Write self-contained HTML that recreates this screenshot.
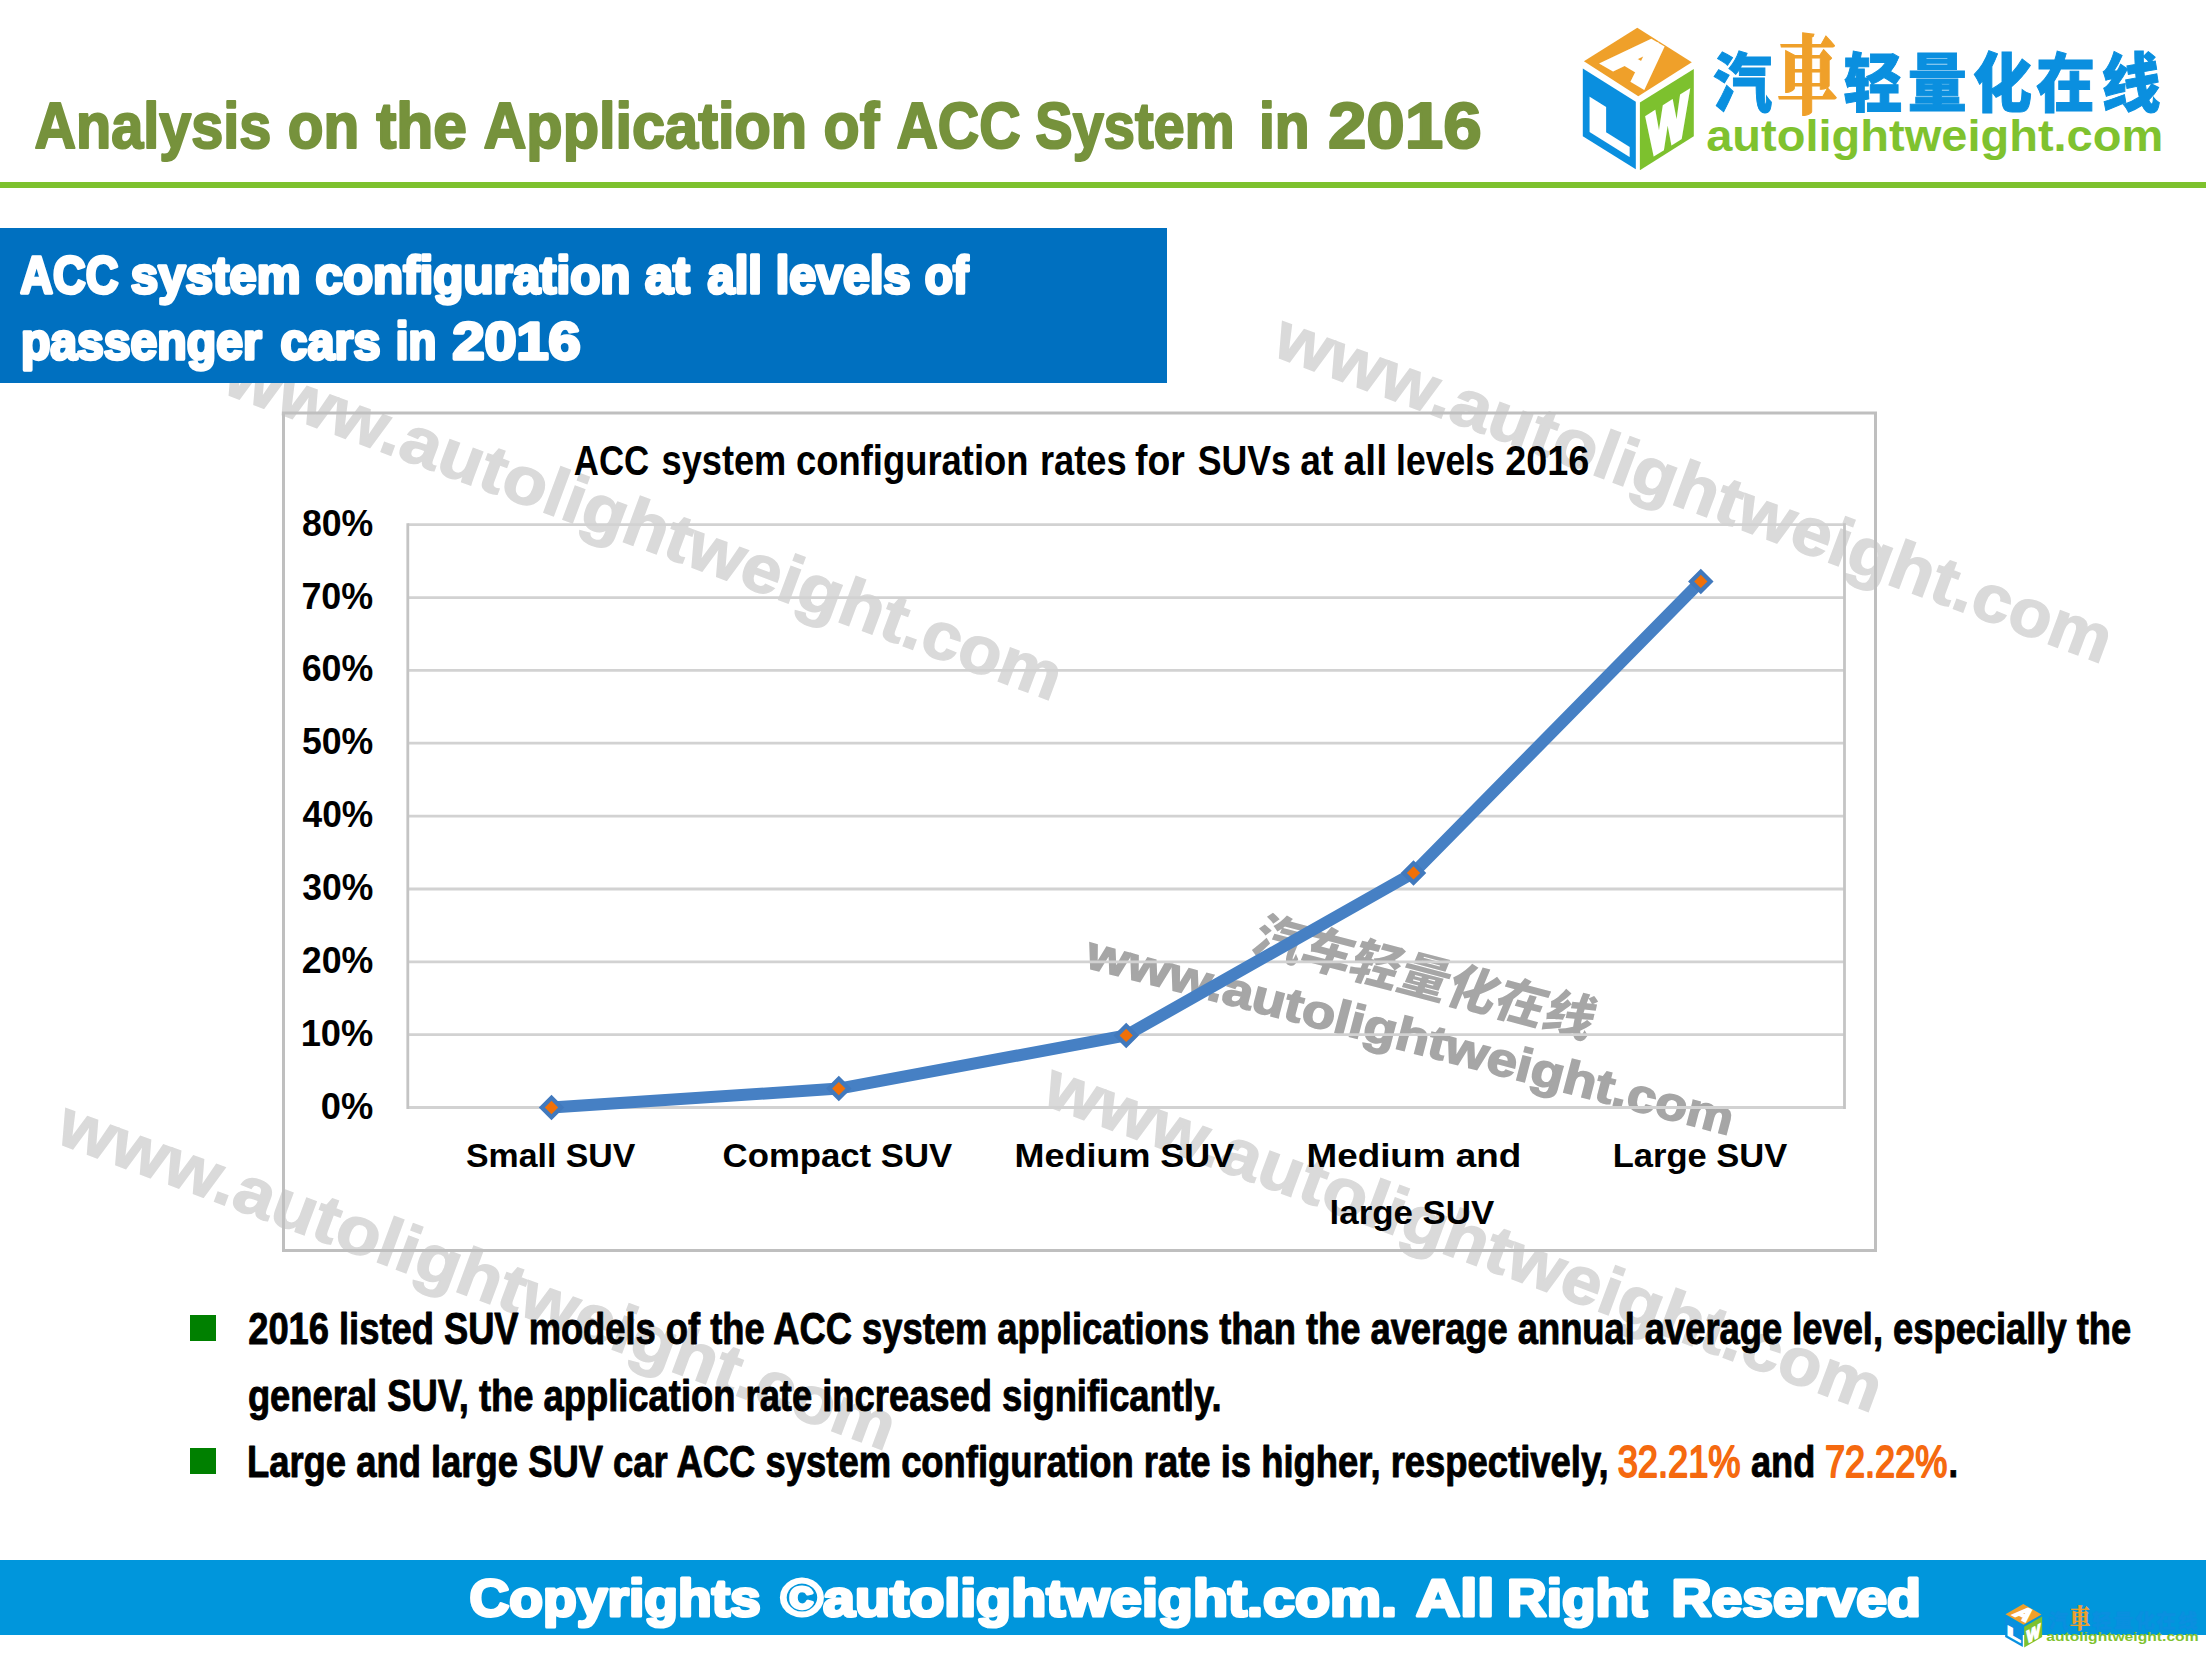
<!DOCTYPE html>
<html lang="en">
<head>
<meta charset="utf-8">
<title>Analysis on the Application of ACC System in 2016</title>
<style>
html,body{margin:0;padding:0;background:#fff}
body{width:2206px;height:1654px;position:relative;overflow:hidden;font-family:"Liberation Sans", sans-serif}
.rule{position:absolute;left:0;top:182px;width:2206px;height:6px;background:#7dc12e}
.banner{position:absolute;left:0;top:228px;width:1167px;height:155px;background:#0070c0}
.footer{position:absolute;left:0;top:1560px;width:2206px;height:75px;background:#0096dc}
svg{position:absolute;left:0;top:0;width:2206px;height:1654px;overflow:visible}
svg text{font-family:"Liberation Sans", sans-serif;white-space:pre}
svg text.ax{font-family:"Liberation Sans","Noto Sans CJK SC",sans-serif}
#wm{z-index:1} .banner,.footer,.rule{z-index:2} #main{z-index:3}
</style>
</head>
<body>
<svg id="wm" viewBox="0 0 2206 1654" aria-hidden="true">
<g id="watermarks">
<g transform="translate(1270.4 354.7) rotate(20.4)" font-size="67" font-weight="bold" fill="#dadada" stroke="#dadada" stroke-width="1.4"><text x="0" y="0" textLength="723.9" lengthAdjust="spacingAndGlyphs">www.autolightweight</text><text x="723.9" y="0" textLength="163.7" lengthAdjust="spacingAndGlyphs">.com</text></g>
<g transform="translate(220.2 391.9) rotate(20.4)" font-size="67" font-weight="bold" fill="#dadada" stroke="#dadada" stroke-width="1.4"><text x="0" y="0" textLength="723.9" lengthAdjust="spacingAndGlyphs">www.autolightweight</text><text x="723.9" y="0" textLength="163.7" lengthAdjust="spacingAndGlyphs">.com</text></g>
<g transform="translate(53.7 1141.7) rotate(20.4)" font-size="67" font-weight="bold" fill="#dadada" stroke="#dadada" stroke-width="1.4"><text x="0" y="0" textLength="723.9" lengthAdjust="spacingAndGlyphs">www.autolightweight</text><text x="723.9" y="0" textLength="163.7" lengthAdjust="spacingAndGlyphs">.com</text></g>
<g transform="translate(1040.2 1103.5) rotate(20.4)" font-size="67" font-weight="bold" fill="#dadada" stroke="#dadada" stroke-width="1.4"><text x="0" y="0" textLength="723.9" lengthAdjust="spacingAndGlyphs">www.autolightweight</text><text x="723.9" y="0" textLength="163.7" lengthAdjust="spacingAndGlyphs">.com</text></g>
<g transform="translate(1084.0 967.0) rotate(14.63)" font-size="47" font-weight="bold" fill="#a6a6a6" stroke="#a6a6a6" stroke-width="1.6"><text x="0" y="0" textLength="543.7" lengthAdjust="spacingAndGlyphs">www.autolightweight</text><text x="543.7" y="0" textLength="122.9" lengthAdjust="spacingAndGlyphs">.com</text></g>
<text transform="translate(1249 950) rotate(14.63) skewX(-8)" font-size="50" font-weight="900" fill="#a6a6a6" textLength="350" lengthAdjust="spacingAndGlyphs" style="font-family:'Liberation Sans', 'Noto Sans CJK SC', sans-serif">汽车轻量化在线</text>
</g>
</svg>
<header class="rule"></header>
<section class="banner" aria-label="ACC system configuration at all levels of passenger cars in 2016"></section>
<footer class="footer"></footer>
<svg id="main" viewBox="0 0 2206 1654" role="img" aria-label="Slide: Analysis on the Application of ACC System in 2016">
<g id="title">
<text x="34.4" y="148" font-size="65" font-weight="bold" fill="#76923c" stroke="#76923c" stroke-width="2.2" stroke-linejoin="round" textLength="236.9" lengthAdjust="spacingAndGlyphs">Analysis</text>
<text x="287.7" y="148" font-size="65" font-weight="bold" fill="#76923c" stroke="#76923c" stroke-width="2.2" stroke-linejoin="round" textLength="71.5" lengthAdjust="spacingAndGlyphs">on</text>
<text x="376.2" y="148" font-size="65" font-weight="bold" fill="#76923c" stroke="#76923c" stroke-width="2.2" stroke-linejoin="round" textLength="90.8" lengthAdjust="spacingAndGlyphs">the</text>
<text x="483.4" y="148" font-size="65" font-weight="bold" fill="#76923c" stroke="#76923c" stroke-width="2.2" stroke-linejoin="round" textLength="323.7" lengthAdjust="spacingAndGlyphs">Application</text>
<text x="823.6" y="148" font-size="65" font-weight="bold" fill="#76923c" stroke="#76923c" stroke-width="2.2" stroke-linejoin="round" textLength="55.7" lengthAdjust="spacingAndGlyphs">of</text>
<text x="896.4" y="148" font-size="65" font-weight="bold" fill="#76923c" stroke="#76923c" stroke-width="2.2" stroke-linejoin="round" textLength="124.3" lengthAdjust="spacingAndGlyphs">ACC</text>
<text x="1035.3" y="148" font-size="65" font-weight="bold" fill="#76923c" stroke="#76923c" stroke-width="2.2" stroke-linejoin="round" textLength="199.2" lengthAdjust="spacingAndGlyphs">System</text>
<text x="1259.0" y="148" font-size="65" font-weight="bold" fill="#76923c" stroke="#76923c" stroke-width="2.2" stroke-linejoin="round" textLength="50.6" lengthAdjust="spacingAndGlyphs">in</text>
<text x="1327.9" y="148" font-size="65" font-weight="bold" fill="#76923c" stroke="#76923c" stroke-width="2.2" stroke-linejoin="round" textLength="153.9" lengthAdjust="spacingAndGlyphs">2016</text>
</g>
<g id="logo">
<polygon points="1637.3,27.8 1691.8,62.3 1638.3,96.2 1583.9,61.2" fill="#efa02a"/>
<polygon points="1582.8,68.4 1635.8,101.8 1635.8,169.2 1582.8,136.3" fill="#0a8fdf"/>
<polygon points="1639.9,102.4 1693.8,69 1693.8,136.3 1639.9,170.2" fill="#7dc12e"/>
<text transform="matrix(1.11 0.654 -0.92 0.866 1603.9 62.8)" font-size="50" font-weight="bold" fill="#fff" stroke="#fff" stroke-width="5" stroke-linejoin="miter">A</text>
<text transform="matrix(1.45 0.91 0 1 1589 129)" font-size="44" font-weight="bold" fill="#fff" stroke="#fff" stroke-width="5" stroke-linejoin="miter">L</text>
<text transform="matrix(0.93 -0.577 0 1.28 1647.5 157.8)" font-size="46" font-weight="bold" fill="#fff" stroke="#fff" stroke-width="4" stroke-linejoin="miter">W</text>
<text x="1713" y="105.8" font-size="64" font-weight="900" fill="#0a8fdf" stroke="#0a8fdf" stroke-width="1" textLength="59" lengthAdjust="spacingAndGlyphs" style="font-family:'Liberation Sans','Noto Sans CJK SC',sans-serif">汽</text>
<text x="1777" y="106.5" font-size="86" font-weight="900" fill="#efa02a" stroke="#efa02a" stroke-width="1.2" textLength="61" lengthAdjust="spacingAndGlyphs" style="font-family:'Liberation Serif','Noto Serif CJK SC',serif">車</text>
<text x="1843.6" y="105.8" font-size="64" font-weight="900" fill="#0a8fdf" stroke="#0a8fdf" stroke-width="1" textLength="59" lengthAdjust="spacingAndGlyphs" style="font-family:'Liberation Sans','Noto Sans CJK SC',sans-serif">轻</text>
<text x="1907.8" y="105.8" font-size="64" font-weight="900" fill="#0a8fdf" stroke="#0a8fdf" stroke-width="1" textLength="59" lengthAdjust="spacingAndGlyphs" style="font-family:'Liberation Sans','Noto Sans CJK SC',sans-serif">量</text>
<text x="1973" y="105.8" font-size="64" font-weight="900" fill="#0a8fdf" stroke="#0a8fdf" stroke-width="1" textLength="59" lengthAdjust="spacingAndGlyphs" style="font-family:'Liberation Sans','Noto Sans CJK SC',sans-serif">化</text>
<text x="2036" y="105.8" font-size="64" font-weight="900" fill="#0a8fdf" stroke="#0a8fdf" stroke-width="1" textLength="59" lengthAdjust="spacingAndGlyphs" style="font-family:'Liberation Sans','Noto Sans CJK SC',sans-serif">在</text>
<text x="2101.4" y="105.8" font-size="64" font-weight="900" fill="#0a8fdf" stroke="#0a8fdf" stroke-width="1" textLength="59" lengthAdjust="spacingAndGlyphs" style="font-family:'Liberation Sans','Noto Sans CJK SC',sans-serif">线</text>
<text x="1706.2" y="150.5" font-size="44" font-weight="bold" fill="#7fc22f" textLength="457.1" lengthAdjust="spacingAndGlyphs">autolightweight.com</text>
</g>
<g id="banner-text">
<text x="20.3" y="293.3" font-size="52" font-weight="bold" fill="#fff" stroke="#fff" stroke-width="3.4" stroke-linejoin="round" textLength="98.1" lengthAdjust="spacingAndGlyphs">ACC</text>
<text x="130.8" y="293.3" font-size="52" font-weight="bold" fill="#fff" stroke="#fff" stroke-width="3.4" stroke-linejoin="round" textLength="169.7" lengthAdjust="spacingAndGlyphs">system</text>
<text x="315.6" y="293.3" font-size="52" font-weight="bold" fill="#fff" stroke="#fff" stroke-width="3.4" stroke-linejoin="round" textLength="314.8" lengthAdjust="spacingAndGlyphs">configuration</text>
<text x="645.1" y="293.3" font-size="52" font-weight="bold" fill="#fff" stroke="#fff" stroke-width="3.4" stroke-linejoin="round" textLength="44.8" lengthAdjust="spacingAndGlyphs">at</text>
<text x="707.6" y="293.3" font-size="52" font-weight="bold" fill="#fff" stroke="#fff" stroke-width="3.4" stroke-linejoin="round" textLength="54.3" lengthAdjust="spacingAndGlyphs">all</text>
<text x="775.7" y="293.3" font-size="52" font-weight="bold" fill="#fff" stroke="#fff" stroke-width="3.4" stroke-linejoin="round" textLength="134.7" lengthAdjust="spacingAndGlyphs">levels</text>
<text x="924.7" y="293.3" font-size="52" font-weight="bold" fill="#fff" stroke="#fff" stroke-width="3.4" stroke-linejoin="round" textLength="43.7" lengthAdjust="spacingAndGlyphs">of</text>
<text x="20.9" y="359" font-size="52" font-weight="bold" fill="#fff" stroke="#fff" stroke-width="3.4" stroke-linejoin="round" textLength="240.8" lengthAdjust="spacingAndGlyphs">passenger</text>
<text x="280.6" y="359" font-size="52" font-weight="bold" fill="#fff" stroke="#fff" stroke-width="3.4" stroke-linejoin="round" textLength="99.8" lengthAdjust="spacingAndGlyphs">cars</text>
<text x="395.8" y="359" font-size="52" font-weight="bold" fill="#fff" stroke="#fff" stroke-width="3.4" stroke-linejoin="round" textLength="40.5" lengthAdjust="spacingAndGlyphs">in</text>
<text x="452.5" y="359" font-size="52" font-weight="bold" fill="#fff" stroke="#fff" stroke-width="3.4" stroke-linejoin="round" textLength="128.1" lengthAdjust="spacingAndGlyphs">2016</text>
</g>
<g id="chart">
<rect x="283.5" y="413" width="1592.0" height="837.5" fill="none" stroke="#bfbfbf" stroke-width="3"/>
<line x1="407.8" x2="1844.5" y1="524.7" y2="524.7" stroke="#d2d2d2" stroke-width="2.8"/>
<line x1="407.8" x2="1844.5" y1="597.6" y2="597.6" stroke="#d2d2d2" stroke-width="2.8"/>
<line x1="407.8" x2="1844.5" y1="670.4" y2="670.4" stroke="#d2d2d2" stroke-width="2.8"/>
<line x1="407.8" x2="1844.5" y1="743.2" y2="743.2" stroke="#d2d2d2" stroke-width="2.8"/>
<line x1="407.8" x2="1844.5" y1="816.1" y2="816.1" stroke="#d2d2d2" stroke-width="2.8"/>
<line x1="407.8" x2="1844.5" y1="889.0" y2="889.0" stroke="#d2d2d2" stroke-width="2.8"/>
<line x1="407.8" x2="1844.5" y1="961.8" y2="961.8" stroke="#d2d2d2" stroke-width="2.8"/>
<line x1="407.8" x2="1844.5" y1="1034.7" y2="1034.7" stroke="#d2d2d2" stroke-width="2.8"/>
<line x1="407.8" x2="1844.5" y1="1107.5" y2="1107.5" stroke="#d2d2d2" stroke-width="2.8"/>
<line x1="407.8" x2="407.8" y1="523.3000000000001" y2="1108.9" stroke="#c4c4c4" stroke-width="2.8"/>
<line x1="1844.5" x2="1844.5" y1="523.3000000000001" y2="1108.9" stroke="#c4c4c4" stroke-width="2.8"/>
<text x="301.9" y="535.7" font-size="37" font-weight="bold" fill="#000" textLength="71.4" lengthAdjust="spacingAndGlyphs" class="ax">80%</text>
<text x="301.4" y="608.6" font-size="37" font-weight="bold" fill="#000" textLength="71.8" lengthAdjust="spacingAndGlyphs" class="ax">70%</text>
<text x="301.7" y="681.4" font-size="37" font-weight="bold" fill="#000" textLength="71.6" lengthAdjust="spacingAndGlyphs" class="ax">60%</text>
<text x="301.9" y="754.2" font-size="37" font-weight="bold" fill="#000" textLength="71.4" lengthAdjust="spacingAndGlyphs" class="ax">50%</text>
<text x="302.5" y="827.1" font-size="37" font-weight="bold" fill="#000" textLength="70.7" lengthAdjust="spacingAndGlyphs" class="ax">40%</text>
<text x="302.2" y="900.0" font-size="37" font-weight="bold" fill="#000" textLength="71.1" lengthAdjust="spacingAndGlyphs" class="ax">30%</text>
<text x="301.8" y="972.8" font-size="37" font-weight="bold" fill="#000" textLength="71.5" lengthAdjust="spacingAndGlyphs" class="ax">20%</text>
<text x="300.7" y="1045.7" font-size="37" font-weight="bold" fill="#000" textLength="72.6" lengthAdjust="spacingAndGlyphs" class="ax">10%</text>
<text x="320.8" y="1118.5" font-size="37" font-weight="bold" fill="#000" textLength="52.5" lengthAdjust="spacingAndGlyphs" class="ax">0%</text>
<text x="573.8" y="475.3" font-size="42" font-weight="bold" fill="#000" textLength="75.4" lengthAdjust="spacingAndGlyphs">ACC</text>
<text x="661.5" y="475.3" font-size="42" font-weight="bold" fill="#000" textLength="124.8" lengthAdjust="spacingAndGlyphs">system</text>
<text x="796.0" y="475.3" font-size="42" font-weight="bold" fill="#000" textLength="232.5" lengthAdjust="spacingAndGlyphs">configuration</text>
<text x="1040.0" y="475.3" font-size="42" font-weight="bold" fill="#000" textLength="86.7" lengthAdjust="spacingAndGlyphs">rates</text>
<text x="1135.1" y="475.3" font-size="42" font-weight="bold" fill="#000" textLength="49.8" lengthAdjust="spacingAndGlyphs">for</text>
<text x="1197.7" y="475.3" font-size="42" font-weight="bold" fill="#000" textLength="93.2" lengthAdjust="spacingAndGlyphs">SUVs</text>
<text x="1300.3" y="475.3" font-size="42" font-weight="bold" fill="#000" textLength="33.1" lengthAdjust="spacingAndGlyphs">at</text>
<text x="1343.5" y="475.3" font-size="42" font-weight="bold" fill="#000" textLength="43.5" lengthAdjust="spacingAndGlyphs">all</text>
<text x="1396.1" y="475.3" font-size="42" font-weight="bold" fill="#000" textLength="98.6" lengthAdjust="spacingAndGlyphs">levels</text>
<text x="1505.2" y="475.3" font-size="42" font-weight="bold" fill="#000" textLength="84.1" lengthAdjust="spacingAndGlyphs">2016</text>
<text x="466.0" y="1166.7" font-size="33" font-weight="bold" fill="#000" textLength="169.3" lengthAdjust="spacingAndGlyphs" class="ax">Small SUV</text>
<text x="722.6" y="1166.7" font-size="33" font-weight="bold" fill="#000" textLength="229.6" lengthAdjust="spacingAndGlyphs" class="ax">Compact SUV</text>
<text x="1014.6" y="1166.7" font-size="33" font-weight="bold" fill="#000" textLength="219.7" lengthAdjust="spacingAndGlyphs" class="ax">Medium SUV</text>
<text x="1306.5" y="1166.7" font-size="33" font-weight="bold" fill="#000" textLength="214.8" lengthAdjust="spacingAndGlyphs" class="ax">Medium and</text>
<text x="1329.6" y="1223.5" font-size="33" font-weight="bold" fill="#000" textLength="164.7" lengthAdjust="spacingAndGlyphs" class="ax">large SUV</text>
<text x="1612.7" y="1166.7" font-size="33" font-weight="bold" fill="#000" textLength="174.5" lengthAdjust="spacingAndGlyphs" class="ax">Large SUV</text>
<polyline fill="none" stroke="#4680c4" stroke-width="12" stroke-linejoin="round" stroke-linecap="round" points="551.5,1107.5 838.8,1088.6 1126.2,1035.4 1413.5,872.9 1700.8,581.4"/>
<rect x="-6.86" y="-6.86" width="13.72" height="13.72" transform="translate(551.5 1107.5) rotate(45)" fill="#f07008" stroke="#4179bd" stroke-width="4.3"/>
<rect x="-6.86" y="-6.86" width="13.72" height="13.72" transform="translate(838.8 1088.6) rotate(45)" fill="#f07008" stroke="#4179bd" stroke-width="4.3"/>
<rect x="-6.86" y="-6.86" width="13.72" height="13.72" transform="translate(1126.2 1035.4) rotate(45)" fill="#f07008" stroke="#4179bd" stroke-width="4.3"/>
<rect x="-6.86" y="-6.86" width="13.72" height="13.72" transform="translate(1413.5 872.9) rotate(45)" fill="#f07008" stroke="#4179bd" stroke-width="4.3"/>
<rect x="-6.86" y="-6.86" width="13.72" height="13.72" transform="translate(1700.8 581.4) rotate(45)" fill="#f07008" stroke="#4179bd" stroke-width="4.3"/>
</g>
<g id="bullets">
<rect x="190" y="1315" width="26" height="26" fill="#008000"/>
<rect x="190" y="1448" width="26" height="26" fill="#008000"/>
<text x="248.2" y="1343.9" font-size="43.5" font-weight="bold" fill="#000" stroke="#000" stroke-width="0.9" stroke-linejoin="round" textLength="1883.0" lengthAdjust="spacingAndGlyphs">2016 listed SUV models of the ACC system applications than the average annual average level, especially the</text>
<text x="247.9" y="1410.6" font-size="43.5" font-weight="bold" fill="#000" stroke="#000" stroke-width="0.9" stroke-linejoin="round" textLength="973.7" lengthAdjust="spacingAndGlyphs">general SUV, the application rate increased significantly.</text>
<text x="246.9" y="1476.8" font-size="43.5" font-weight="bold" fill="#000" stroke="#000" stroke-width="0.9" stroke-linejoin="round" textLength="1361.7" lengthAdjust="spacingAndGlyphs">Large and large SUV car ACC system configuration rate is higher, respectively,</text>
<text x="1617.7" y="1476.8" font-size="43.5" font-weight="normal" fill="#f5690f" stroke="#f5690f" stroke-width="1.9" stroke-linejoin="round" textLength="122.9" lengthAdjust="spacingAndGlyphs">32.21%</text>
<text x="1825.0" y="1476.8" font-size="43.5" font-weight="normal" fill="#f5690f" stroke="#f5690f" stroke-width="1.9" stroke-linejoin="round" textLength="122.3" lengthAdjust="spacingAndGlyphs">72.22%</text>
<text x="1751.0" y="1476.8" font-size="43.5" font-weight="bold" fill="#000" stroke="#000" stroke-width="0.9" stroke-linejoin="round" textLength="64.3" lengthAdjust="spacingAndGlyphs">and</text>
<text x="1948.6" y="1476.8" font-size="43.5" font-weight="bold" fill="#000" stroke="#000" stroke-width="0.9" textLength="9.6" lengthAdjust="spacingAndGlyphs">.</text>
</g>
<g id="footer-text">
<text x="469.5" y="1615.6" font-size="52" font-weight="bold" fill="#fff" stroke="#fff" stroke-width="3.2" stroke-linejoin="round" textLength="291.3" lengthAdjust="spacingAndGlyphs">Copyrights</text>
<text x="780.8" y="1615.6" font-size="52" font-weight="bold" fill="#fff" stroke="#fff" stroke-width="3.2" stroke-linejoin="round" textLength="616.2" lengthAdjust="spacingAndGlyphs">©autolightweight.com.</text>
<text x="1415.9" y="1615.6" font-size="52" font-weight="bold" fill="#fff" stroke="#fff" stroke-width="3.2" stroke-linejoin="round" textLength="78.3" lengthAdjust="spacingAndGlyphs">All</text>
<text x="1507.0" y="1615.6" font-size="52" font-weight="bold" fill="#fff" stroke="#fff" stroke-width="3.2" stroke-linejoin="round" textLength="140.3" lengthAdjust="spacingAndGlyphs">Right</text>
<text x="1671.6" y="1615.6" font-size="52" font-weight="bold" fill="#fff" stroke="#fff" stroke-width="3.2" stroke-linejoin="round" textLength="249.2" lengthAdjust="spacingAndGlyphs">Reserved</text>
</g>
<g id="logo-small" transform="translate(1477.6 1595.5) scale(0.3333 0.305)">
<polygon points="1637.3,27.8 1691.8,62.3 1638.3,96.2 1583.9,61.2" fill="#efa02a"/>
<polygon points="1582.8,68.4 1635.8,101.8 1635.8,169.2 1582.8,136.3" fill="#0a8fdf"/>
<polygon points="1639.9,102.4 1693.8,69 1693.8,136.3 1639.9,170.2" fill="#7dc12e"/>
<text transform="matrix(1.11 0.654 -0.92 0.866 1603.9 62.8)" font-size="50" font-weight="bold" fill="#fff" stroke="#fff" stroke-width="5" stroke-linejoin="miter">A</text>
<text transform="matrix(1.45 0.91 0 1 1589 129)" font-size="44" font-weight="bold" fill="#fff" stroke="#fff" stroke-width="5" stroke-linejoin="miter">L</text>
<text transform="matrix(0.93 -0.577 0 1.28 1647.5 157.8)" font-size="46" font-weight="bold" fill="#fff" stroke="#fff" stroke-width="4" stroke-linejoin="miter">W</text>
<text x="1713" y="105.8" font-size="64" font-weight="900" fill="#0a8fdf" stroke="#0a8fdf" stroke-width="1" textLength="59" lengthAdjust="spacingAndGlyphs" style="font-family:'Liberation Sans','Noto Sans CJK SC',sans-serif">汽</text>
<text x="1777" y="106.5" font-size="86" font-weight="900" fill="#efa02a" stroke="#efa02a" stroke-width="1.2" textLength="61" lengthAdjust="spacingAndGlyphs" style="font-family:'Liberation Serif','Noto Serif CJK SC',serif">車</text>
<text x="1843.6" y="105.8" font-size="64" font-weight="900" fill="#0a8fdf" stroke="#0a8fdf" stroke-width="1" textLength="59" lengthAdjust="spacingAndGlyphs" style="font-family:'Liberation Sans','Noto Sans CJK SC',sans-serif">轻</text>
<text x="1907.8" y="105.8" font-size="64" font-weight="900" fill="#0a8fdf" stroke="#0a8fdf" stroke-width="1" textLength="59" lengthAdjust="spacingAndGlyphs" style="font-family:'Liberation Sans','Noto Sans CJK SC',sans-serif">量</text>
<text x="1973" y="105.8" font-size="64" font-weight="900" fill="#0a8fdf" stroke="#0a8fdf" stroke-width="1" textLength="59" lengthAdjust="spacingAndGlyphs" style="font-family:'Liberation Sans','Noto Sans CJK SC',sans-serif">化</text>
<text x="2036" y="105.8" font-size="64" font-weight="900" fill="#0a8fdf" stroke="#0a8fdf" stroke-width="1" textLength="59" lengthAdjust="spacingAndGlyphs" style="font-family:'Liberation Sans','Noto Sans CJK SC',sans-serif">在</text>
<text x="2101.4" y="105.8" font-size="64" font-weight="900" fill="#0a8fdf" stroke="#0a8fdf" stroke-width="1" textLength="59" lengthAdjust="spacingAndGlyphs" style="font-family:'Liberation Sans','Noto Sans CJK SC',sans-serif">线</text>
<text x="1706.2" y="150.5" font-size="44" font-weight="bold" fill="#7fc22f" textLength="457.1" lengthAdjust="spacingAndGlyphs">autolightweight.com</text>
</g>
</svg>
</body>
</html>
